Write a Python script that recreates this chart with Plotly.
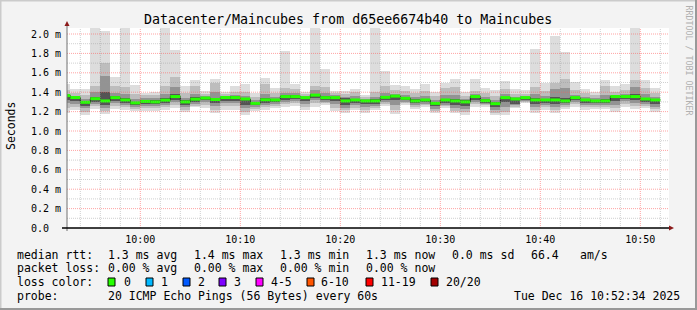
import pandas as pd
import plotly.graph_objects as go

# ---------------- data (milliseconds) ----------------
bar_start = pd.date_range("2025-12-16 09:52:00", periods=60, freq="min")

max_ms = [1.485, 1.43, 1.43, 2.06, 2.03, 1.555, 2.06, 1.47, 1.395, 1.40,
          2.06, 1.835, 1.46, 1.53, 1.41, 1.536, 1.40, 1.465, 1.48, 1.39,
          1.55, 1.44, 1.825, 1.48, 1.406, 2.06, 1.64, 1.41, 1.41, 1.433,
          1.37, 2.06, 1.62, 1.47, 1.46, 1.433, 1.48, 1.406, 1.49, 1.536,
          1.406, 1.536, 1.447, 1.423, 1.516, 1.433, 1.423, 1.846, 1.50, 1.98,
          1.81, 1.51, 1.433, 1.406, 1.53, 1.46, 1.48, 2.06, 1.53, 1.44]
hi2_ms = [1.42, 1.39, 1.37, 1.46, 1.70, 1.46, 1.45, 1.38, 1.37, 1.37,
          1.46, 1.56, 1.39, 1.46, 1.38, 1.49, 1.38, 1.40, 1.40, 1.35,
          1.48, 1.39, 1.44, 1.43, 1.38, 1.46, 1.45, 1.39, 1.38, 1.40,
          1.35, 1.40, 1.46, 1.42, 1.41, 1.39, 1.41, 1.36, 1.44, 1.45,
          1.36, 1.41, 1.39, 1.36, 1.43, 1.38, 1.38, 1.45, 1.41, 1.49,
          1.54, 1.42, 1.39, 1.37, 1.46, 1.40, 1.42, 1.53, 1.44, 1.39]
hi3_ms = [1.38, 1.36, 1.33, 1.40, 1.57, 1.39, 1.38, 1.33, 1.34, 1.34,
          1.38, 1.45, 1.34, 1.38, 1.36, 1.40, 1.36, 1.37, 1.36, 1.32,
          1.38, 1.35, 1.39, 1.39, 1.36, 1.42, 1.39, 1.37, 1.35, 1.36,
          1.33, 1.35, 1.39, 1.38, 1.37, 1.35, 1.36, 1.32, 1.37, 1.37,
          1.33, 1.38, 1.35, 1.32, 1.38, 1.35, 1.36, 1.38, 1.36, 1.43,
          1.44, 1.37, 1.35, 1.34, 1.37, 1.375, 1.38, 1.45, 1.38, 1.35]
hi4_ms = [1.37, 1.35, 1.31, 1.35, 1.40, 1.36, 1.34, 1.30, 1.32, 1.32,
          1.34, 1.38, 1.315, 1.35, 1.35, 1.34, 1.35, 1.36, 1.34, 1.30,
          1.34, 1.33, 1.37, 1.37, 1.35, 1.38, 1.36, 1.35, 1.34, 1.335,
          1.32, 1.325, 1.36, 1.37, 1.35, 1.325, 1.335, 1.30, 1.335, 1.33,
          1.315, 1.365, 1.325, 1.295, 1.355, 1.34, 1.35, 1.34, 1.335, 1.35,
          1.34, 1.355, 1.33, 1.32, 1.325, 1.365, 1.365, 1.38, 1.345, 1.335]
median_ms = [1.365, 1.345, 1.296, 1.333, 1.31, 1.344, 1.32, 1.29, 1.305, 1.30,
             1.318, 1.355, 1.30, 1.328, 1.34, 1.325, 1.345, 1.345, 1.33, 1.285,
             1.322, 1.32, 1.355, 1.355, 1.344, 1.37, 1.344, 1.344, 1.31, 1.32,
             1.31, 1.31, 1.347, 1.36, 1.337, 1.31, 1.32, 1.285, 1.32, 1.31,
             1.30, 1.355, 1.313, 1.282, 1.344, 1.33, 1.344, 1.32, 1.32, 1.32,
             1.31, 1.344, 1.32, 1.31, 1.31, 1.355, 1.355, 1.355, 1.33, 1.32]
lo4_ms = [1.32, 1.31, 1.26, 1.30, 1.27, 1.31, 1.29, 1.265, 1.28, 1.28,
          1.29, 1.32, 1.27, 1.30, 1.315, 1.29, 1.31, 1.31, 1.27, 1.265,
          1.29, 1.295, 1.32, 1.33, 1.31, 1.34, 1.32, 1.31, 1.27, 1.29,
          1.28, 1.28, 1.32, 1.32, 1.315, 1.29, 1.30, 1.255, 1.29, 1.27,
          1.26, 1.32, 1.29, 1.25, 1.30, 1.28, 1.32, 1.28, 1.29, 1.28,
          1.29, 1.32, 1.29, 1.29, 1.29, 1.31, 1.33, 1.32, 1.30, 1.28]
lo3_ms = [1.29, 1.28, 1.235, 1.28, 1.24, 1.29, 1.27, 1.245, 1.26, 1.26,
          1.27, 1.30, 1.25, 1.28, 1.295, 1.26, 1.29, 1.29, 1.24, 1.25,
          1.27, 1.28, 1.30, 1.31, 1.28, 1.32, 1.30, 1.28, 1.24, 1.27,
          1.25, 1.26, 1.30, 1.27, 1.30, 1.27, 1.28, 1.23, 1.27, 1.24,
          1.23, 1.30, 1.28, 1.22, 1.25, 1.265, 1.305, 1.25, 1.27, 1.25,
          1.27, 1.30, 1.27, 1.27, 1.27, 1.27, 1.31, 1.29, 1.28, 1.25]
lo2_ms = [1.24, 1.25, 1.20, 1.26, 1.21, 1.26, 1.25, 1.23, 1.235, 1.235,
          1.245, 1.27, 1.22, 1.26, 1.265, 1.22, 1.255, 1.26, 1.20, 1.23,
          1.245, 1.26, 1.275, 1.29, 1.25, 1.29, 1.29, 1.24, 1.215, 1.24,
          1.22, 1.24, 1.28, 1.22, 1.285, 1.25, 1.265, 1.21, 1.255, 1.21,
          1.20, 1.275, 1.265, 1.19, 1.20, 1.25, 1.295, 1.22, 1.245, 1.22,
          1.25, 1.275, 1.245, 1.25, 1.25, 1.235, 1.28, 1.26, 1.26, 1.225]
min_ms = [1.19, 1.215, 1.165, 1.23, 1.18, 1.225, 1.22, 1.21, 1.21, 1.21,
          1.22, 1.235, 1.20, 1.245, 1.24, 1.19, 1.22, 1.22, 1.16, 1.21,
          1.22, 1.24, 1.25, 1.26, 1.217, 1.25, 1.27, 1.21, 1.19, 1.215,
          1.19, 1.215, 1.26, 1.18, 1.27, 1.23, 1.25, 1.19, 1.24, 1.19,
          1.17, 1.25, 1.25, 1.17, 1.16, 1.24, 1.285, 1.19, 1.22, 1.19,
          1.23, 1.25, 1.22, 1.23, 1.23, 1.20, 1.25, 1.23, 1.24, 1.20]

y_tick_vals = [0.0, 0.2, 0.4, 0.6, 0.8, 1.0, 1.2, 1.4, 1.6, 1.8, 2.0]
y_tick_text = ["0.0\u00a0\u00a0", "0.2 m", "0.4 m", "0.6 m", "0.8 m", "1.0 m",
               "1.2 m", "1.4 m", "1.6 m", "1.8 m", "2.0 m"]
x_tick_vals = ["2025-12-16 10:00", "2025-12-16 10:10", "2025-12-16 10:20",
               "2025-12-16 10:30", "2025-12-16 10:40", "2025-12-16 10:50"]
x_tick_text = ["10:00", "10:10", "10:20", "10:30", "10:40", "10:50"]

loss_labels = ["0", "1", "2", "3", "4-5", "6-10", "11-19", "20/20"]
loss_colors = ["#26ff00", "#00b8ff", "#0059ff", "#7e00ff", "#ff00ff",
               "#ff5500", "#ff0000", "#a10000"]

# ---------------- geometry ----------------
W, H = 697, 310
L, R, T, B = 67, 669, 28, 228
PW, PH = R - L, B - T
MONO = "DejaVu Sans Mono"


def px(p):
    return (p - L) / PW


def py(p):
    return (B - p) / PH


fig = go.Figure()

step = pd.Timedelta(minutes=1)
centers = bar_start + step / 2
smoke = [(min_ms, max_ms, "#dddddd"), (lo2_ms, hi2_ms, "#bdbdbd"),
         (lo3_ms, hi3_ms, "#939393"), (lo4_ms, hi4_ms, "#545454")]
for lo, hi, col in smoke:
    fig.add_trace(go.Bar(
        x=centers, base=lo, y=[h - l for h, l in zip(hi, lo)],
        width=60000, marker=dict(color=col, line=dict(width=0)),
        hoverinfo="skip", showlegend=False))

# dark median step line
fig.add_trace(go.Scatter(
    x=list(bar_start) + [bar_start[-1] + step], y=median_ms + [median_ms[-1]],
    mode="lines", line=dict(color="#202020", width=1, shape="hv"),
    hoverinfo="skip", showlegend=False))

# green median segments (0 loss)
gx, gy = [], []
for s, m in zip(bar_start, median_ms):
    gx += [s, s + step, None]
    gy += [m, m, None]
fig.add_trace(go.Scatter(x=gx, y=gy, mode="lines",
                         line=dict(color=loss_colors[0], width=3),
                         hoverinfo="skip", showlegend=False))

shapes = []
# vertical grid every 2 min, red every 10 min
t = pd.Timestamp("2025-12-16 09:54:00")
while t <= pd.Timestamp("2025-12-16 10:52:00"):
    red = t.minute % 10 == 0
    shapes.append(dict(type="line", xref="x", yref="paper", x0=t, x1=t, y0=0, y1=1,
                       layer="above",
                       line=dict(color="rgba(255,90,90,0.55)" if red else "rgba(150,150,150,0.45)",
                                 width=1, dash="1px,1px")))
    t += pd.Timedelta(minutes=2)
# horizontal grid every 0.1 ms, red every 0.2 ms
for i in range(1, 21):
    red = i % 2 == 0
    shapes.append(dict(type="line", xref="paper", yref="y", x0=0, x1=1, y0=i / 10, y1=i / 10,
                       layer="above",
                       line=dict(color="rgba(255,90,90,0.55)" if red else "rgba(150,150,150,0.45)",
                                 width=1, dash="1px,1px")))
# axes lines
shapes.append(dict(type="line", xref="paper", yref="paper", x0=px(67), x1=px(67),
                   y0=py(231), y1=py(24), line=dict(color="#707070", width=1), layer="above"))
shapes.append(dict(type="line", xref="paper", yref="paper", x0=px(62), x1=px(670),
                   y0=0, y1=0, line=dict(color="#000000", width=1.5), layer="above"))
# arrows
shapes.append(dict(type="path", xref="paper", yref="paper", layer="above",
                   path=f"M {px(64.5)} {py(26)} L {px(69.5)} {py(26)} L {px(67)} {py(21)} Z",
                   fillcolor="#8b1a1a", line=dict(width=0)))
shapes.append(dict(type="path", xref="paper", yref="paper", layer="above",
                   path=f"M {px(669)} {py(225.5)} L {px(669)} {py(230.5)} L {px(674)} {py(228)} Z",
                   fillcolor="#8b1a1a", line=dict(width=0)))
# 3D frame
shapes.append(dict(type="line", xref="paper", yref="paper", x0=px(0), x1=px(697),
                   y0=py(0.5), y1=py(0.5), line=dict(color="#cbcbcb", width=2)))
shapes.append(dict(type="line", xref="paper", yref="paper", x0=px(0.5), x1=px(0.5),
                   y0=py(0), y1=py(310), line=dict(color="#cbcbcb", width=2)))
shapes.append(dict(type="line", xref="paper", yref="paper", x0=px(0), x1=px(697),
                   y0=py(309), y1=py(309), line=dict(color="#999999", width=2)))
shapes.append(dict(type="line", xref="paper", yref="paper", x0=px(696), x1=px(696),
                   y0=py(0), y1=py(310), line=dict(color="#999999", width=2)))
# loss colour boxes
box_x = [108, 146, 183, 219, 256, 307, 366, 431]
for bx, col in zip(box_x, loss_colors):
    shapes.append(dict(type="rect", xref="paper", yref="paper",
                       x0=px(bx), x1=px(bx + 7), y0=py(278), y1=py(286),
                       fillcolor=col, line=dict(color="#000000", width=1)))

ann = []


def text(x, y, s, size=11.5, anchor="left", color="#000000", angle=0, yanchor="middle"):
    ann.append(dict(xref="paper", yref="paper", x=px(x), y=py(y), text=s.replace(" ", "\u00a0"),
                    showarrow=False, xanchor=anchor, yanchor=yanchor, textangle=angle,
                    borderpad=0, font=dict(family=MONO, size=size, color=color)))


text(348, 19.5, "Datacenter/Maincubes from d65ee6674b40 to Maincubes", size=13.3, anchor="center")
text(11, 126, "Seconds", anchor="center", angle=-90)
text(688.5, 60, "RRDTOOL / TOBI OETIKER", size=8.3, anchor="center", color="#b0b0b0", angle=90)

rows = [254.7, 268.3, 282.3, 296]
cols = [106.5, 192.5, 278.5, 365]
text(15.5, rows[0], "median rtt:")
for c, s in zip(cols, ["1.3 ms avg", "1.4 ms max", "1.3 ms min", "1.3 ms now"]):
    text(c, rows[0], s)
text(451, rows[0], "0.0 ms sd")
text(529.5, rows[0], "66.4")
text(578.5, rows[0], "am/s")
text(15.5, rows[1], "packet loss:")
for c, s in zip(cols, ["0.00 % avg", "0.00 % max", "0.00 % min", "0.00 % now"]):
    text(c, rows[1], s)
text(15.5, rows[2], "loss color:")
lab_x = [122.5, 159.5, 196.5, 232.5, 269.5, 320, 380, 445]
for lx, lab in zip(lab_x, loss_labels):
    text(lx, rows[2], lab)
text(15.5, rows[3], "probe:")
text(106.5, rows[3], "20 ICMP Echo Pings (56 Bytes) every 60s")
text(681, rows[3], "Tue Dec 16 10:52:34 2025", anchor="right")

fig.update_layout(
    width=W, height=H,
    margin=dict(l=L, r=W - R, t=T, b=H - B, pad=0),
    paper_bgcolor="#f3f3f3", plot_bgcolor="#ffffff",
    barmode="overlay", bargap=0, showlegend=False,
    shapes=shapes, annotations=ann,
    xaxis=dict(type="date", range=["2025-12-16 09:52:40", "2025-12-16 10:52:52"],
               tickvals=x_tick_vals, ticktext=x_tick_text, showgrid=False, zeroline=False,
               showline=False, ticks="", ticklabelstandoff=4,
               tickfont=dict(family=MONO, size=10, color="#000000")),
    yaxis=dict(range=[0, 2.062], tickvals=y_tick_vals, ticktext=y_tick_text,
               showgrid=False, zeroline=False, showline=False, ticks="", ticklabelstandoff=5,
               tickfont=dict(family=MONO, size=10, color="#000000")),
)

fig.write_html("out.html")
